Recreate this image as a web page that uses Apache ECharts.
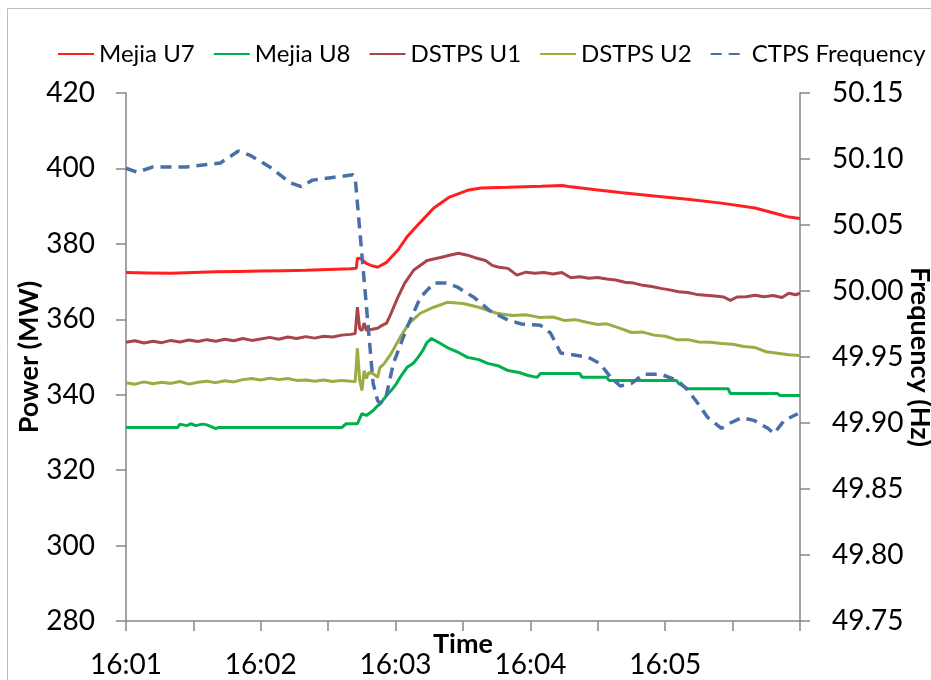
<!DOCTYPE html>
<html>
<head>
<meta charset="utf-8">
<script src="https://cdn.jsdelivr.net/npm/echarts@6/dist/echarts.min.js"></script>
<style>
  html, body { margin: 0; padding: 0; background: #fff; }
  #chart { width: 931px; height: 680px; }
</style>
</head>
<body>
<div id="chart"></div>
<script>
// Time axis: seconds after 16:01:00, five minutes shown
const timeLabels = ['16:01', '16:02', '16:03', '16:04', '16:05'];

// Mejia U7 (MW)
const u7Time = [0, 10, 20, 30, 40, 50, 60, 70, 80, 90, 100, 102.5, 103, 104.5, 107, 109, 112, 116, 121, 125, 131, 137, 144, 152, 158, 170, 185, 194, 197, 210, 220, 235, 250, 265, 280, 290, 295, 300];
const u7Power = [372.4, 372.3, 372.2, 372.4, 372.6, 372.7, 372.8, 372.9, 373.0, 373.2, 373.4, 373.5, 376.2, 376.1, 374.8, 374.3, 373.8, 375.1, 378.3, 381.8, 385.7, 389.5, 392.4, 394.2, 394.8, 395.0, 395.3, 395.5, 395.2, 394.3, 393.6, 392.7, 391.8, 390.8, 389.5, 387.9, 387.1, 386.7];

// Mejia U8 (MW)
const u8Time = [0, 23, 24, 27, 29, 31, 34, 36, 40, 41, 96, 98, 103, 105, 107, 110, 112, 113, 116, 118, 120, 122, 125, 128, 130, 132, 134, 136, 139, 143, 148, 152, 157, 161, 166, 170, 175, 179, 183, 184.5, 202, 203, 214, 215, 245, 246, 250, 268, 269, 290, 291, 300];
const u8Power = [331.3, 331.3, 332.2, 331.8, 332.3, 331.8, 332.2, 332.0, 331.0, 331.3, 331.3, 332.3, 332.3, 335.0, 334.5, 335.8, 337.1, 337.5, 339.8, 341.1, 342.6, 344.6, 347.2, 348.4, 349.9, 351.6, 353.9, 354.9, 353.9, 352.5, 351.2, 349.9, 349.3, 348.3, 347.6, 346.4, 345.9, 345.1, 344.6, 345.6, 345.6, 344.6, 344.6, 343.8, 343.8, 343.0, 341.6, 341.6, 340.3, 340.3, 339.8, 339.8];

// DSTPS U1 (MW)
const d1Time = [0, 4, 8, 12, 16, 20, 24, 28, 32, 36, 40, 44, 48, 52, 56, 60, 64, 68, 72, 76, 80, 84, 88, 92, 96, 100, 102, 103, 104, 105, 106, 107, 109, 112, 114, 116, 118, 121, 124, 128, 134, 140, 144, 148, 152, 155, 160, 163, 166, 170, 174, 178, 182, 186, 190, 194, 198, 202, 206, 210, 214, 218, 222, 226, 230, 234, 238, 242, 246, 250, 254, 258, 262, 266, 269, 272, 276, 280, 284, 288, 292, 295, 298, 300];
const d1Power = [353.9, 354.3, 353.7, 354.2, 353.8, 354.4, 354.0, 354.5, 354.1, 354.6, 354.2, 354.7, 354.3, 354.9, 354.4, 354.8, 355.2, 354.7, 355.3, 354.9, 355.4, 355.0, 355.5, 355.3, 355.8, 356.0, 356.2, 363.2, 357.5, 357.0, 359.0, 357.1, 357.3, 357.6, 358.4, 359.0, 361.6, 365.8, 369.5, 373.0, 375.6, 376.4, 377.0, 377.5, 377.0, 376.4, 375.6, 374.3, 373.8, 373.5, 371.7, 372.5, 372.2, 372.4, 372.0, 372.4, 371.0, 371.3, 370.9, 371.1, 370.7, 370.4, 369.8, 369.6, 369.0, 368.7, 368.2, 367.8, 367.3, 367.1, 366.6, 366.4, 366.2, 365.9, 365.0, 365.9, 366.0, 366.4, 366.0, 366.3, 365.8, 366.9, 366.5, 366.9];

// DSTPS U2 (MW)
const d2Time = [0, 4, 8, 12, 16, 20, 24, 28, 32, 36, 40, 44, 48, 52, 56, 60, 64, 68, 72, 76, 80, 84, 88, 92, 96, 100, 102, 103, 104, 105, 106, 107, 108, 110, 112, 113, 115, 118, 122, 126, 131, 137, 143, 150, 157, 165, 172, 178, 184, 190, 195, 200, 205, 210, 214, 220, 225, 230, 235, 240, 245, 250, 255, 260, 265, 270, 275, 280, 285, 290, 295, 300];
const d2Power = [343.2, 342.8, 343.4, 342.9, 343.3, 343.0, 343.5, 342.8, 343.3, 343.6, 343.2, 343.7, 343.4, 344.0, 344.3, 343.9, 344.4, 344.0, 344.3, 343.8, 343.9, 343.6, 343.9, 343.5, 343.8, 343.6, 343.4, 352.3, 344.0, 341.1, 346.4, 344.3, 345.9, 345.6, 344.6, 347.2, 348.3, 350.9, 355.2, 358.9, 361.6, 363.2, 364.5, 364.2, 363.2, 361.6, 361.0, 361.2, 360.5, 360.6, 359.7, 359.9, 359.2, 358.6, 358.8, 357.6, 356.5, 356.6, 355.8, 355.5, 354.6, 354.6, 354.0, 353.9, 353.6, 353.4, 352.8, 352.5, 351.4, 351.0, 350.6, 350.4];

// CTPS frequency (Hz)
const fTime = [0, 5, 12, 27, 42, 50, 55, 64, 73, 78, 83, 92, 101, 102, 110, 112, 113, 115.5, 119, 125, 131, 137, 143, 147.5, 155, 162, 170, 176, 184.5, 189, 193.5, 205.5, 211, 216, 220, 225, 230.5, 238, 245.6, 250, 254.5, 259, 265, 269, 274, 279.5, 285.7, 288.4, 293, 299];
const fHz = [50.093, 50.090, 50.094, 50.094, 50.097, 50.106, 50.103, 50.094, 50.082, 50.079, 50.084, 50.086, 50.088, 50.086, 49.930, 49.917, 49.915, 49.918, 49.945, 49.972, 49.995, 50.006, 50.006, 50.003, 49.995, 49.985, 49.978, 49.975, 49.974, 49.968, 49.953, 49.950, 49.945, 49.934, 49.928, 49.930, 49.937, 49.937, 49.932, 49.925, 49.915, 49.904, 49.896, 49.900, 49.904, 49.902, 49.896, 49.892, 49.902, 49.907];

const pair = (xs, ys) => xs.map((x, i) => [x, ys[i]]);

const FONT = 'Lato';
const AXIS_GREY = '#868686';

const chart = echarts.init(document.getElementById('chart'), null, { renderer: 'canvas' });

function lineSeries(name, color, xs, ys, extra) {
  return Object.assign({
    name: name,
    type: 'line',
    data: pair(xs, ys),
    symbol: 'none',
    smooth: false,
    lineStyle: { color: color, width: 3 },
    itemStyle: { color: color },
    z: 3
  }, extra || {});
}

chart.setOption({
  animation: false,
  backgroundColor: '#fff',
  textStyle: { fontFamily: FONT, color: '#000' },
  graphic: [{
    type: 'rect',
    shape: { x: 7.5, y: 8.5, width: 940, height: 700 },
    style: { fill: 'none', stroke: '#bdbdbd', lineWidth: 1 },
    silent: true
  }],
  legend: {
    left: 57,
    top: 42,
    width: 900,
    padding: 0,
    itemWidth: 36,
    itemHeight: 14,
    itemGap: 18,
    itemStyle: { opacity: 0 },
    textStyle: { fontFamily: FONT, fontSize: 24, color: '#000' },
    data: ['Mejia U7', 'Mejia U8', 'DSTPS U1', 'DSTPS U2', 'CTPS Frequency']
  },
  grid: { left: 126, right: 131, top: 93, bottom: 59, containLabel: false, outerBoundsMode: 'none' },
  xAxis: {
    type: 'value',
    min: 0,
    max: 300,
    interval: 30,
    name: 'Time',
    nameLocation: 'middle',
    nameGap: 10,
    nameMoveOverlap: false,
    nameTextStyle: { fontFamily: FONT, fontSize: 27, fontWeight: 'bold', color: '#000' },
    axisLine: { show: true, lineStyle: { color: AXIS_GREY, width: 1.5 } },
    axisTick: { show: true, length: 10, lineStyle: { color: AXIS_GREY, width: 1.5 } },
    axisLabel: {
      margin: 30,
      fontFamily: FONT, fontSize: 28, color: '#000',
      showMaxLabel: true,
      formatter: v => (v % 60 === 0 && v / 60 < timeLabels.length) ? timeLabels[v / 60] : ''
    },
    splitLine: { show: false }
  },
  yAxis: [{
    type: 'value',
    min: 280,
    max: 420,
    interval: 20,
    name: 'Power (MW)',
    nameLocation: 'middle',
    nameRotate: 90,
    nameGap: 83,
    nameMoveOverlap: false,
    nameTextStyle: { fontFamily: FONT, fontSize: 27, fontWeight: 'bold', color: '#000' },
    axisLine: { show: true, lineStyle: { color: AXIS_GREY, width: 1.5 } },
    axisTick: { show: true, length: 10, lineStyle: { color: AXIS_GREY, width: 1.5 } },
    axisLabel: { margin: 31, fontFamily: FONT, fontSize: 28, color: '#000' },
    splitLine: { show: false }
  }, {
    type: 'value',
    position: 'right',
    min: 49.75,
    max: 50.15,
    interval: 0.05,
    name: 'Frequency (Hz)',
    nameLocation: 'middle',
    nameRotate: -90,
    nameGap: 106,
    nameMoveOverlap: false,
    nameTextStyle: { fontFamily: FONT, fontSize: 27, fontWeight: 'bold', color: '#000' },
    axisLine: { show: true, lineStyle: { color: AXIS_GREY, width: 1.5 } },
    axisTick: { show: true, length: 10, lineStyle: { color: AXIS_GREY, width: 1.5 } },
    axisLabel: { margin: 32, fontFamily: FONT, fontSize: 28, color: '#000', formatter: v => v.toFixed(2) },
    splitLine: { show: false }
  }],
  series: [
    lineSeries('Mejia U7', '#FF1F1F', u7Time, u7Power),
    lineSeries('Mejia U8', '#00B050', u8Time, u8Power),
    lineSeries('DSTPS U1', '#A8444A', d1Time, d1Power),
    lineSeries('DSTPS U2', '#9AAD45', d2Time, d2Power),
    lineSeries('CTPS Frequency', '#4A6FA8', fTime, fHz, {
      yAxisIndex: 1,
      z: 4,
      lineStyle: { color: '#4A6FA8', width: 3.5, type: [11, 7] }
    })
  ]
});
</script>
</body>
</html>
